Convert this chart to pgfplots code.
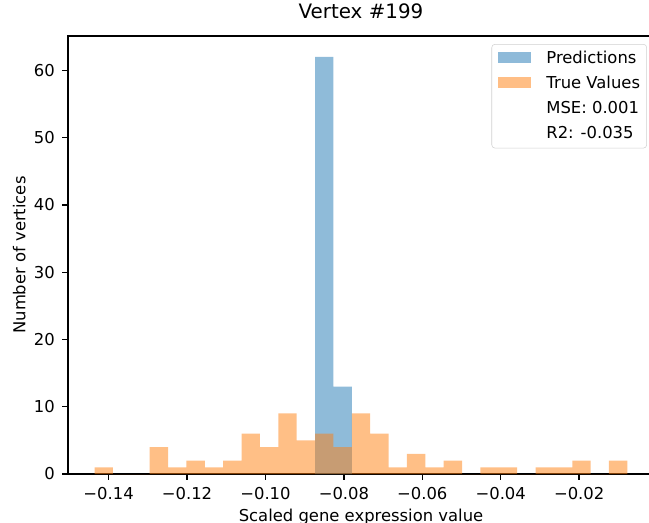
\documentclass[border=0pt]{standalone}
\usepackage{pgfplots}
\pgfplotsset{compat=1.18}
\usepackage{fontspec}
\setmainfont{DejaVu Sans}
\definecolor{mplblue}{HTML}{1F77B4}
\definecolor{mplorange}{HTML}{FF7F0E}
\begin{document}
\begin{tikzpicture}
\begin{axis}[
  at={(0,0)}, anchor=south west,
  scale only axis, width=439.5pt, height=328.5pt,
  xmin=-0.15036, xmax=-0.00091, ymin=0, ymax=65.1,
  axis line style={black, line width=0.98pt},
  every tick/.style={black, line width=0.98pt},
  tick align=outside, major tick length=4.3pt,
  xtick pos=bottom, ytick pos=left,
  xtick={-0.14,-0.12,-0.10,-0.08,-0.06,-0.04,-0.02},
  xticklabels={−0.14,−0.12,−0.10,−0.08,−0.06,−0.04,−0.02},
  ytick={0,10,20,30,40,50,60},
  /pgf/number format/assume math mode=true,
  tick label style={font=\fontsize{12.3pt}{14pt}\selectfont, inner sep=0pt},
  xticklabel style={anchor=north, yshift=-5.2pt},
  yticklabel style={anchor=east, xshift=-5.45pt},
  title={Vertex \#199},
  title style={at={(axis description cs:0.5,1.0212)}, anchor=base, font=\fontsize{14.9pt}{17pt}\selectfont, inner sep=0pt},
  xlabel={Scaled gene expression value},
  xlabel style={at={(axis description cs:0.5,-0.1073)}, anchor=base, font=\fontsize{12.3pt}{14pt}\selectfont, inner sep=0pt},
  ylabel={Number of vertices},
  ylabel style={at={(axis description cs:-0.0729,0.5)}, anchor=base, rotate=0, font=\fontsize{12.3pt}{14pt}\selectfont, inner sep=0pt},
  legend cell align=left,
  legend style={at={(axis description cs:0.988,0.9817)}, anchor=north east,
    draw=black!18, rounded corners=2.5pt, fill=white, fill opacity=0.8, text opacity=1,
    font=\fontsize{12.3pt}{14pt}\selectfont,
    inner xsep=5pt, inner ysep=5pt, row sep=6.9pt,
    nodes={inner sep=0pt, text height=9.2pt, text depth=2.6pt},
    /tikz/every odd column/.append style={column sep=11.25pt}},
]
\addplot[ybar interval, fill=mplblue, fill opacity=0.5, draw=none,
  legend image code/.code={\fill[sharp corners, mplblue, fill opacity=0.5] (0pt,-3.4pt) rectangle (24.75pt,5.1pt);}]
  table[row sep=\\] {x y\\ -0.08735 62\\ -0.08267 13\\ -0.07798 0\\};
\addlegendentry{Predictions}
\addplot[ybar interval, fill=mplorange, fill opacity=0.5, draw=none,
  legend image code/.code={\fill[sharp corners, mplorange, fill opacity=0.5] (0pt,-3.4pt) rectangle (24.75pt,5.1pt);}]
  table[row sep=\\] {x y\\
  -0.14357 1\\ -0.13889 0\\ -0.13420 0\\ -0.12952 4\\ -0.12483 1\\
  -0.12015 2\\ -0.11546 1\\ -0.11078 2\\ -0.10609 6\\ -0.10141 4\\
  -0.09672 9\\ -0.09204 5\\ -0.08735 6\\ -0.08267 4\\ -0.07798 9\\
  -0.07330 6\\ -0.06861 1\\ -0.06393 3\\ -0.05924 1\\ -0.05456 2\\
  -0.04987 0\\ -0.04519 1\\ -0.04050 1\\ -0.03582 0\\ -0.03113 1\\
  -0.02645 1\\ -0.02176 2\\ -0.01708 0\\ -0.01239 2\\ -0.00771 0\\};
\addlegendentry{True Values}
\addlegendimage{legend image code/.code={}}
\addlegendentry{MSE: 0.001}
\addlegendimage{legend image code/.code={}}
\addlegendentry{R2: -0.035}
\end{axis}
\pgfresetboundingbox
\path[use as bounding box] (-51pt,-36pt) rectangle (435.75pt,355.5pt);
\end{tikzpicture}
\end{document}
